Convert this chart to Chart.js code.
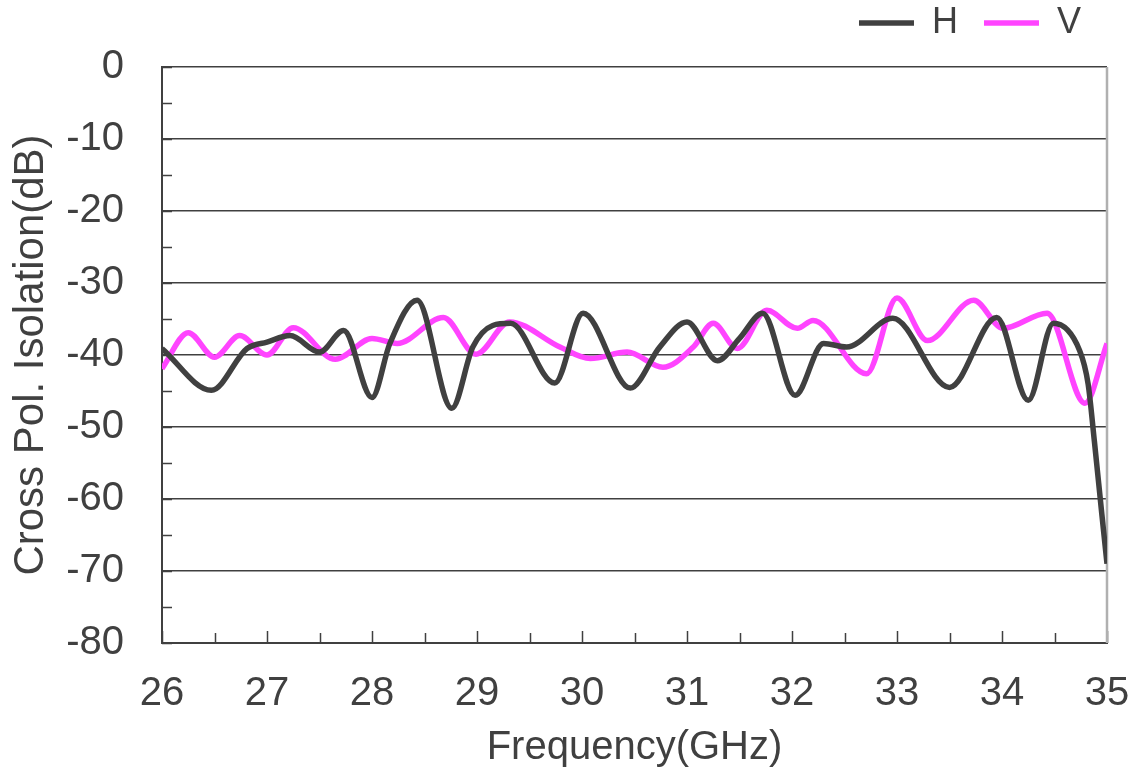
<!DOCTYPE html>
<html>
<head>
<meta charset="utf-8">
<script src="https://cdn.jsdelivr.net/npm/chart.js@4"></script>
<style>
    html, body { margin: 0; padding: 0; background: #fff; }
    #wrap { width: 1131px; height: 778px; }
</style>
</head>
<body>
<div id="wrap"><canvas id="isoChart"></canvas></div>
<script>
// values
const freqH = [26.0, 26.47, 26.81, 27.0, 27.22, 27.5, 27.73, 28.0, 28.17, 28.43, 28.76, 28.96, 29.15, 29.32,
    29.74, 30.01, 30.46, 30.74, 31.0, 31.29, 31.5, 31.72, 32.03, 32.3, 32.52, 32.96, 33.5, 33.95, 34.25,
    34.49, 34.74, 34.82, 34.88, 34.95, 35.0];
const isoH = [-39.1, -44.9, -39.1, -38.2, -37.3, -39.6, -36.6, -45.9, -38.4, -32.4, -47.4, -38.9, -35.9, -35.6,
    -43.9, -34.2, -44.6, -38.9, -35.4, -40.8, -37.7, -34.2, -45.6, -38.4, -38.9, -34.9, -44.5, -34.8, -46.3,
    -35.6, -39.4, -44.0, -52.0, -62.0, -69.0];

const freqV = [26.0, 26.25, 26.5, 26.74, 27.0, 27.25, 27.65, 28.0, 28.24, 28.68, 28.99, 29.31, 29.79, 30.08,
    30.43, 30.77, 31.06, 31.25, 31.48, 31.76, 32.05, 32.2, 32.71, 33.0, 33.29, 33.73, 34.01, 34.43, 34.79, 35.0];
const isoV = [-41.9, -36.9, -40.3, -37.3, -40.0, -36.2, -40.6, -37.7, -38.4, -34.8, -39.9, -35.4, -38.9, -40.5,
    -39.6, -41.7, -38.9, -35.6, -39.1, -33.8, -36.3, -35.2, -42.6, -32.1, -38.0, -32.4, -36.3, -34.2, -46.7, -38.4];

const xTickLabels = [26, 27, 28, 29, 30, 31, 32, 33, 34, 35];
const yTickLabels = [0, -10, -20, -30, -40, -50, -60, -70, -80];

const textColor = '#404040';
const fontFamily = '"Liberation Sans", Arial, sans-serif';

function toPoints(xs, ys) {
    return xs.map(function (x, i) { return { x: x, y: ys[i] }; });
}

// tick marks drawn inside the plot, plus the light right frame
const innerTicks = {
    id: 'innerTicks',
    beforeDatasetsDraw(chart) {
        const ctx = chart.ctx;
        const area = chart.chartArea;
        const xs = chart.scales.x;
        const ys = chart.scales.y;
        ctx.save();
        ctx.strokeStyle = textColor;
        ctx.lineWidth = 1.5;
        ctx.beginPath();
        xs.ticks.forEach(function (t) {
            const px = Math.round(xs.getPixelForValue(t.value)) + 0.5;
            const len = Number.isInteger(t.value) ? 12 : 10;
            ctx.moveTo(px, area.bottom);
            ctx.lineTo(px, area.bottom - len);
        });
        ys.ticks.forEach(function (t) {
            const py = Math.round(ys.getPixelForValue(t.value)) + 0.5;
            ctx.moveTo(area.left, py);
            ctx.lineTo(area.left + 10, py);
        });
        ctx.stroke();
        ctx.strokeStyle = '#b0b0b0';
        ctx.lineWidth = 2.5;
        ctx.beginPath();
        ctx.moveTo(area.right, area.top);
        ctx.lineTo(area.right, area.bottom);
        ctx.stroke();
        ctx.restore();
    }
};

(function () {
    "use strict";
    let ctx = document.getElementById('isoChart').getContext('2d');

    new Chart(ctx, {
        type: 'line',
        data: {
            datasets: [{
                label: 'H',
                data: toPoints(freqH, isoH),
                borderColor: '#404040',
                backgroundColor: '#404040',
                borderWidth: 5.5,
                pointRadius: 0,
                cubicInterpolationMode: 'monotone',
                fill: false
            }, {
                label: 'V',
                data: toPoints(freqV, isoV),
                borderColor: '#ff44ff',
                backgroundColor: '#ff44ff',
                borderWidth: 5.5,
                pointRadius: 0,
                cubicInterpolationMode: 'monotone',
                fill: false
            }]
        },
        options: {
            responsive: true,
            maintainAspectRatio: false,
            animation: false,
            layout: {
                padding: { left: 0, right: 24, top: -30, bottom: 0 }
            },
            plugins: {
                legend: {
                    position: 'top',
                    align: 'end',
                    labels: {
                        usePointStyle: true,
                        pointStyle: 'line',
                        pointStyleWidth: 55,
                        color: textColor,
                        font: { family: fontFamily, size: 36 },
                        padding: 26
                    }
                },
                tooltip: { enabled: false }
            },
            scales: {
                x: {
                    type: 'linear',
                    min: 26,
                    max: 35,
                    afterFit: function (scale) {
                        scale.height = 135;
                        scale.paddingLeft = 0;
                        scale.paddingRight = 0;
                    },
                    ticks: {
                        stepSize: 0.5,
                        autoSkip: false,
                        maxRotation: 0,
                        padding: 27,
                        color: textColor,
                        font: { family: fontFamily, size: 40 },
                        callback: function (v) {
                            return xTickLabels.indexOf(v) >= 0 ? String(v) : '';
                        }
                    },
                    grid: { display: false, drawTicks: false },
                    border: { display: true, color: textColor, width: 2 },
                    title: {
                        display: true,
                        text: 'Frequency(GHz)',
                        color: textColor,
                        font: { family: fontFamily, size: 40 },
                        padding: { top: 0, bottom: 6 }
                    }
                },
                // empty strip between legend and plot
                xTop: {
                    type: 'linear',
                    position: 'top',
                    min: 26,
                    max: 35,
                    afterFit: function (scale) {
                        scale.height = 16;
                        scale.paddingLeft = 0;
                        scale.paddingRight = 0;
                    },
                    ticks: { display: false },
                    grid: { display: false, drawTicks: false },
                    border: { display: false }
                },
                y: {
                    min: -80,
                    max: 0,
                    afterFit: function (scale) {
                        scale.width = 162;
                        scale.paddingTop = 67;
                    },
                    ticks: {
                        stepSize: 5,
                        autoSkip: false,
                        padding: 38,
                        color: textColor,
                        font: { family: fontFamily, size: 40 },
                        callback: function (v) {
                            return yTickLabels.indexOf(v) >= 0 ? String(v) : '';
                        }
                    },
                    grid: {
                        drawTicks: false,
                        lineWidth: 1.5,
                        color: function (c) {
                            return c.tick && c.tick.value % 10 === 0 ? textColor : 'rgba(0,0,0,0)';
                        }
                    },
                    border: { display: true, color: textColor, width: 2 },
                    title: {
                        display: true,
                        text: 'Cross Pol. Isolation(dB)',
                        color: textColor,
                        font: { family: fontFamily, size: 42 },
                        padding: { top: 6, bottom: 0 }
                    }
                }
            }
        },
        plugins: [innerTicks]
    });
})();
</script>
</body>
</html>
